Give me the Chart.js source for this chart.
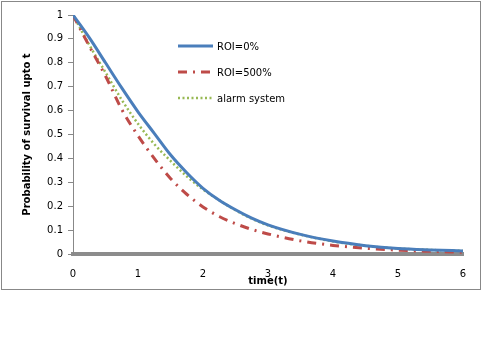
<!DOCTYPE html>
<html>
<head>
<meta charset="utf-8">
<title>Probability of survival</title>
<script src="https://cdn.jsdelivr.net/npm/chart.js@4/dist/chart.umd.min.js"></script>
<style>
    body { margin: 0; background: #fff; }
    #frame { position: absolute; left: 1px; top: 1px; width: 480px; height: 289px;
             box-sizing: border-box; border: 1px solid #888; }
    #canvasSurvival { position: absolute; left: 0; top: 0; }
</style>
</head>
<body>
<canvas id="canvasSurvival" width="483" height="300"></canvas>
<div id="frame"></div>
<script>
// time points
var times = [0, 0.25, 0.5, 0.75, 1, 1.25, 1.5, 1.75, 2, 2.25, 2.5, 2.75, 3, 3.5, 4, 4.5, 5, 5.5, 6];

// survival probability for each series
var roi0 = [1, 0.905, 0.80, 0.695, 0.595, 0.505, 0.415, 0.34, 0.275, 0.225, 0.185, 0.15, 0.122, 0.082, 0.054, 0.035, 0.023, 0.017, 0.013];
var roi500 = [1, 0.87, 0.745, 0.605, 0.495, 0.40, 0.316, 0.25, 0.197, 0.157, 0.127, 0.103, 0.084, 0.055, 0.036, 0.024, 0.016, 0.011, 0.007];
var alarm = [1, 0.875, 0.76, 0.645, 0.545, 0.46, 0.39, 0.325, 0.27, 0.225, 0.183, 0.148, 0.12, 0.081, 0.053, 0.034, 0.023, 0.017, 0.013];

var seriesNames = ["ROI=0%", "ROI=500%", "alarm system"];

var go = {};

document.addEventListener("DOMContentLoaded", main);

// pair up the times with one series
function toPoints(values)
{
    var pts = [];
    for (var i = 0; i < times.length; ++ i)
        pts.push({ x: times[i], y: values[i] });
    return pts;
}

// small legend drawn inside the plot, like the excel one
var insideLegend =
{
    id: "insideLegend",
    afterDraw: function (chart)
    {
        var ctx = chart.ctx;
        var x0 = 178, y0 = 46, gap = 26;
        ctx.save();
        ctx.font = "10px 'DejaVu Sans'";
        ctx.textBaseline = "middle";
        ctx.fillStyle = "#000";
        chart.data.datasets.forEach(function (ds, i)
        {
            var y = y0 + i * gap;
            ctx.strokeStyle = ds.borderColor;
            ctx.lineWidth = ds.borderWidth;
            ctx.setLineDash(ds.borderDash || []);
            ctx.beginPath();
            ctx.moveTo(x0, y);
            ctx.lineTo(x0 + 35, y);
            ctx.stroke();
            ctx.fillText(ds.label, x0 + 39, y + 1);
        });
        ctx.restore();
    }
};

function main()
{
    var config =
    {
        type: "line",
        data:
        {
            datasets:
            [
                {
                    label: seriesNames[0],
                    data: toPoints(roi0),
                    borderColor: "#4a7ebb",
                    borderWidth: 3,
                    borderDash: []
                },
                {
                    label: seriesNames[1],
                    data: toPoints(roi500),
                    borderColor: "#be4b48",
                    borderWidth: 3,
                    borderDash: [9, 6, 2, 6]
                },
                {
                    label: seriesNames[2],
                    data: toPoints(alarm),
                    borderColor: "#98b954",
                    borderWidth: 2.5,
                    borderDash: [2, 2.5]
                }
            ]
        },
        options:
        {
            responsive: false,
            animation: false,
            layout: { padding: { left: 0, right: 20, top: 15, bottom: 0 } },
            elements:
            {
                point: { radius: 0 },
                line: { cubicInterpolationMode: "monotone", fill: false }
            },
            plugins:
            {
                legend: { display: false },
                tooltip: { enabled: false }
            },
            scales:
            {
                x:
                {
                    type: "linear",
                    min: 0,
                    max: 6,
                    grid: { display: false, drawTicks: false },
                    border: { display: true, color: "#8c8c8c", width: 4 },
                    ticks: { stepSize: 1, padding: 14, color: "#000",
                             font: { family: "DejaVu Sans", size: 10 } },
                    title:
                    {
                        display: true,
                        text: "time(t)",
                        color: "#000",
                        font: { family: "DejaVu Sans", size: 10, weight: "bold" },
                        padding: { top: 0, bottom: 13 }
                    },
                    afterFit: function (scale) { scale.height = 46; }
                },
                y:
                {
                    min: 0,
                    max: 1,
                    grid: { drawOnChartArea: false, drawTicks: true, tickLength: 5, color: "#888" },
                    border: { display: true, color: "#888", width: 1 },
                    ticks:
                    {
                        stepSize: 0.1,
                        padding: 5,
                        color: "#000",
                        font: { family: "DejaVu Sans", size: 10 },
                        // excel shows "1" and "0", not "1.0"
                        callback: function (value) { return String(Math.round(value * 10) / 10); }
                    },
                    title:
                    {
                        display: true,
                        text: "Probability of survival upto t",
                        color: "#000",
                        font: { family: "DejaVu Sans", size: 10, weight: "bold" },
                        padding: { top: 21, bottom: 0 }
                    },
                    afterFit: function (scale) { scale.width = 73; }
                }
            }
        },
        plugins: [insideLegend]
    };

    go.canvas = document.getElementById("canvasSurvival");
    go.chart = new Chart(go.canvas.getContext("2d"), config);
}
</script>
</body>
</html>
